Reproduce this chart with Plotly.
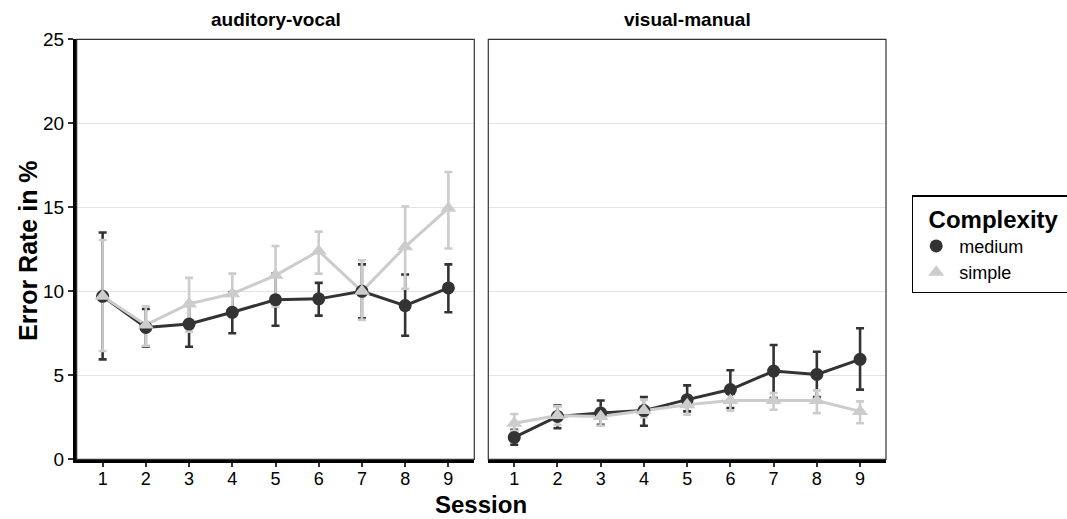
import plotly.graph_objects as go

sessions = [1, 2, 3, 4, 5, 6, 7, 8, 9]
panels = ["auditory-vocal", "visual-manual"]

# auditory-vocal
av_medium = [9.7, 7.85, 8.05, 8.75, 9.5, 9.55, 10.0, 9.15, 10.2]
av_medium_hi = [13.5, 8.95, 9.3, 9.95, 11.05, 10.5, 11.6, 11.0, 11.6]
av_medium_lo = [5.95, 6.7, 6.7, 7.5, 7.95, 8.55, 8.4, 7.35, 8.75]
av_simple = [9.7, 8.0, 9.25, 9.85, 10.95, 12.4, 10.0, 12.65, 14.95]
av_simple_hi = [13.05, 9.1, 10.8, 11.05, 12.7, 13.55, 11.85, 15.05, 17.1]
av_simple_lo = [6.45, 6.75, 7.6, 8.65, 9.1, 11.05, 8.3, 10.15, 12.55]

# visual-manual
vm_medium = [1.3, 2.55, 2.75, 2.9, 3.55, 4.15, 5.25, 5.05, 5.95]
vm_medium_hi = [1.75, 3.2, 3.5, 3.7, 4.4, 5.3, 6.8, 6.4, 7.8]
vm_medium_lo = [0.87, 1.85, 2.05, 2.0, 2.85, 3.05, 3.65, 3.7, 4.15]
vm_simple = [2.15, 2.6, 2.55, 2.9, 3.25, 3.5, 3.5, 3.5, 2.85]
vm_simple_hi = [2.7, 3.15, 3.05, 3.55, 3.8, 4.0, 3.95, 4.1, 3.45]
vm_simple_lo = [1.7, 2.05, 2.0, 2.5, 2.65, 2.9, 2.95, 2.75, 2.15]

y_ticks = [0, 5, 10, 15, 20, 25]

C_MED = "#333333"
C_SIM = "#cccccc"
FONT = "Liberation Sans, Arial, sans-serif"

W, H = 1067, 519
px_l = [76.7, 488.3]
px_r = [474.3, 886.0]
py_top, py_bot = 39.3, 459.3

fig = go.Figure()

data = [
    (av_medium, av_medium_hi, av_medium_lo, av_simple, av_simple_hi, av_simple_lo),
    (vm_medium, vm_medium_hi, vm_medium_lo, vm_simple, vm_simple_hi, vm_simple_lo),
]

for i, (m, mh, ml, s, sh, sl) in enumerate(data):
    xa = "x" if i == 0 else "x2"
    ya = "y" if i == 0 else "y2"
    # error bar layer
    for vals, hi, lo, col in [(m, mh, ml, C_MED), (s, sh, sl, C_SIM)]:
        fig.add_trace(go.Scatter(
            x=sessions, y=vals, mode="markers", xaxis=xa, yaxis=ya,
            marker=dict(opacity=0, size=1, color=col), showlegend=False, hoverinfo="skip",
            error_y=dict(type="data", symmetric=False,
                         array=[h - v for h, v in zip(hi, vals)],
                         arrayminus=[v - l for v, l in zip(vals, lo)],
                         color=col, thickness=2.6, width=4),
        ))
    # line layer
    for vals, col in [(m, C_MED), (s, C_SIM)]:
        fig.add_trace(go.Scatter(
            x=sessions, y=vals, mode="lines", xaxis=xa, yaxis=ya,
            line=dict(color=col, width=3), showlegend=False, hoverinfo="skip",
        ))
    # point layer
    for vals, col, name, sym, sz in [(m, C_MED, "medium", "circle", 13),
                                     (s, C_SIM, "simple", "triangle-up", 14)]:
        fig.add_trace(go.Scatter(
            x=sessions, y=vals, mode="markers", xaxis=xa, yaxis=ya,
            name=name, legendgroup=name, showlegend=(i == 0),
            marker=dict(color=col, size=sz, symbol=sym),
        ))

dom_x1 = [px_l[0] / W, px_r[0] / W]
dom_x2 = [px_l[1] / W, px_r[1] / W]
dom_y = [1 - py_bot / H, 1 - py_top / H]

xcommon = dict(range=[0.4, 9.6], tickvals=sessions, ticktext=[str(s) for s in sessions],
               showgrid=False, zeroline=False, showline=True, linecolor="black", linewidth=4,
               ticks="outside", ticklen=4, tickwidth=1.5, tickcolor="#333333",
               ticklabelstandoff=-4,
               tickfont=dict(family=FONT, size=18, color="black"), automargin=False)
ycommon = dict(range=[0, 25], tickvals=y_ticks, showgrid=True, gridcolor="#e4e4e4", gridwidth=1,
               zeroline=False, automargin=False)

fig.update_layout(
    width=W, height=H,
    margin=dict(l=0, r=0, t=0, b=0, pad=0, autoexpand=False),
    paper_bgcolor="white", plot_bgcolor="white",
    font=dict(family=FONT, color="black"),
    xaxis=dict(domain=dom_x1, anchor="y", **xcommon),
    xaxis2=dict(domain=dom_x2, anchor="y2", **xcommon),
    yaxis=dict(domain=dom_y, anchor="x", showline=True, linecolor="black", linewidth=3.5,
               ticks="outside", ticklen=5, tickwidth=1.5, tickcolor="#333333",
               tickfont=dict(family=FONT, size=19, color="black"), **ycommon),
    yaxis2=dict(domain=dom_y, anchor="x2", showticklabels=False, showline=False, **ycommon),
    legend=dict(x=911.7 / W, y=1 - 195 / H, xanchor="left", yanchor="top",
                bordercolor="black", borderwidth=1.5, bgcolor="white",
                title=dict(text="&nbsp;&nbsp;<b>Complexity</b>&nbsp;&nbsp;",
                           font=dict(family=FONT, size=24, color="black")),
                font=dict(family=FONT, size=18, color="black"),
                tracegroupgap=0, itemwidth=36),
    showlegend=True,
)

# panel borders
for xr, yr in [("x domain", "y domain"), ("x2 domain", "y2 domain")]:
    fig.add_shape(type="rect", xref=xr, yref=yr, x0=0, x1=1, y0=0, y1=1,
                  line=dict(color="#333333", width=1.2), layer="above")

# facet titles
for i, name in enumerate(panels):
    fig.add_annotation(text="<b>" + name + "</b>", xref="paper", yref="paper",
                       x=((px_l[i] + px_r[i]) / 2) / W, y=1 - 19 / H,
                       xanchor="center", yanchor="middle",
                       showarrow=False, font=dict(family=FONT, size=19, color="black"))

# axis titles
fig.add_annotation(text="<b>Session</b>", xref="paper", yref="paper",
                   x=((px_l[0] + px_r[1]) / 2) / W, y=1 - 504 / H,
                   xanchor="center", yanchor="middle",
                   showarrow=False, font=dict(family=FONT, size=24, color="black"))
fig.add_annotation(text="<b>Error Rate in %</b>", xref="paper", yref="paper",
                   x=28 / W, y=1 - 251 / H, textangle=-90,
                   xanchor="center", yanchor="middle",
                   showarrow=False, font=dict(family=FONT, size=25, color="black"))

fig.write_html("out.html", config={"displayModeBar": False},
               post_script="document.body.style.margin='0';document.body.style.overflow='hidden';")
